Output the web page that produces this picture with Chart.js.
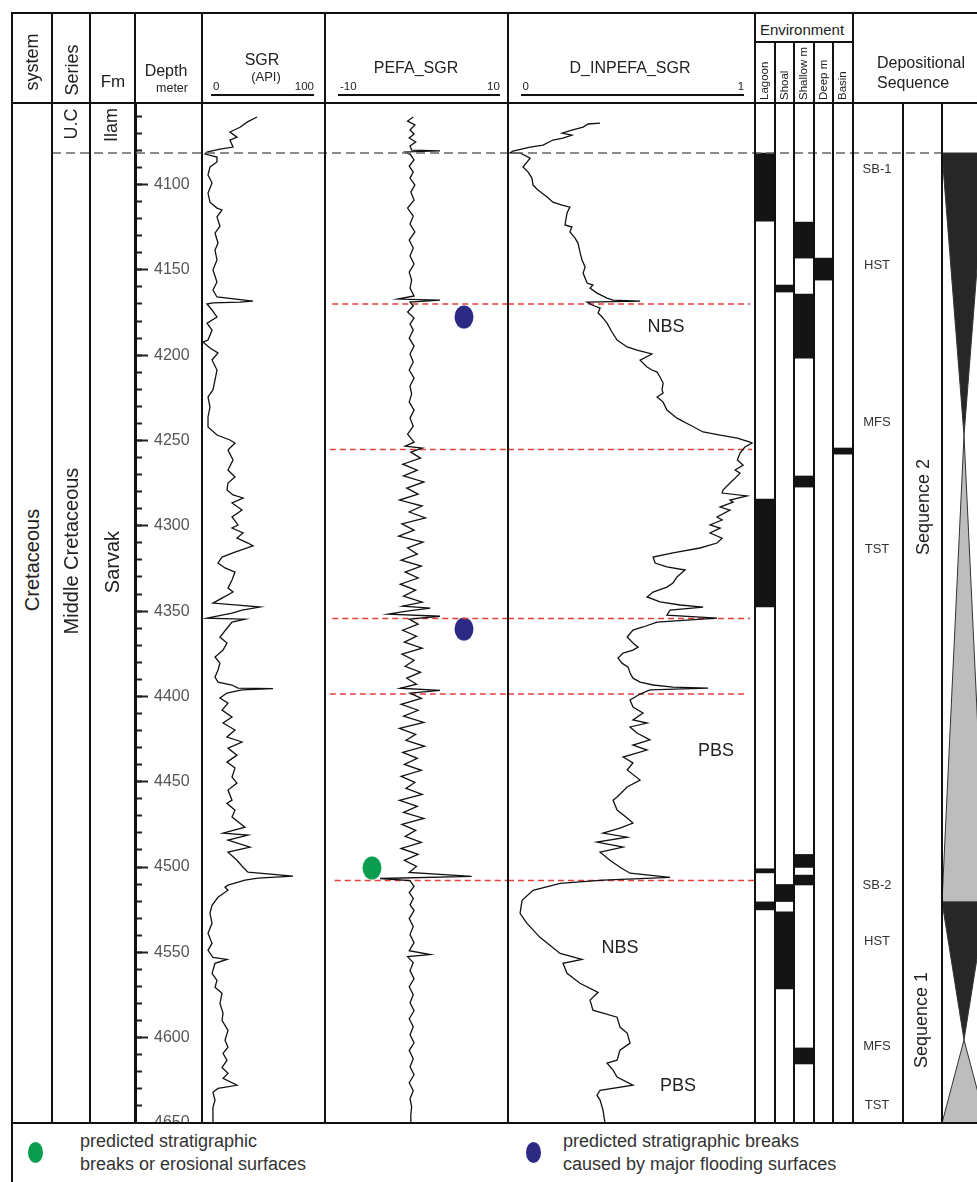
<!DOCTYPE html>
<html>
<head>
<meta charset="utf-8">
<script src="https://cdn.jsdelivr.net/npm/chart.js@4/dist/chart.umd.min.js"></script>
<style>
  body { margin: 0; background: #fff; }
  #page { position: relative; width: 977px; height: 1182px; overflow: hidden; background: #fff;
          font-family: Arial, "Liberation Sans", Helvetica, sans-serif; color: #222; }
  .ln { position: absolute; background: #111; z-index: 4; }
  .t { position: absolute; white-space: nowrap; line-height: 1; z-index: 5; }
  canvas { position: absolute; }
</style>
</head>
<body>
<div id="page"></div>
<script>
const depthTop = 4052.2, depthBottom = 4650;   // metres shown in the plot band
const depthLabels = [4100, 4150, 4200, 4250, 4300, 4350, 4400, 4450, 4500, 4550, 4600, 4650];

// SGR (API) : [depth, value]
const sgrLog = [[4060.4,44.7],[4063.4,35.0],[4066.4,28.2],[4069.2,18.4],[4072.2,25.2],[4073.9,18.4],[4078.0,21.4],[4079.2,8.7],[4081.0,-3.9],[4082.1,-5.8],
  [4083.9,5.8],[4086.8,5.8],[4089.7,-1.0],[4094.4,-2.9],[4099.1,1.0],[4105.0,-2.9],[4110.3,-1.0],[4113.8,5.8],[4114.9,10.7],[4119.0,5.8],
  [4124.3,8.7],[4128.4,3.9],[4134.3,6.8],[4138.4,3.9],[4144.2,5.8],[4150.1,1.9],[4157.1,5.8],[4161.8,1.9],[4165.9,5.8],[4168.3,40.8],
  [4168.9,28.2],[4169.4,1.9],[4170.0,-3.9],[4173.5,1.0],[4177.6,5.8],[4181.2,-3.9],[4185.3,1.0],[4191.1,-2.9],[4192.3,-7.8],[4195.8,-1.0],
  [4198.7,6.8],[4202.8,1.0],[4208.7,5.8],[4214.5,3.9],[4220.4,1.9],[4224.5,-2.9],[4230.4,-1.0],[4236.2,-2.9],[4242.1,-2.9],[4246.8,5.8],
  [4249.7,18.4],[4251.5,23.3],[4254.4,18.4],[4255.6,16.5],[4261.4,21.4],[4267.3,16.5],[4271.4,23.3],[4274.9,16.5],[4279.0,15.5],[4281.9,21.4],
  [4283.7,31.1],[4286.6,20.4],[4290.7,30.1],[4294.8,20.4],[4299.5,26.2],[4301.3,20.4],[4304.2,31.1],[4307.2,25.2],[4310.1,35.9],[4311.8,40.8],
  [4315.4,23.3],[4318.3,10.7],[4321.8,6.8],[4324.7,13.6],[4327.1,23.3],[4331.8,20.4],[4336.5,16.5],[4338.8,21.4],[4342.4,10.7],[4345.3,1.9],
  [4346.5,26.2],[4347.6,47.6],[4349.4,30.1],[4351.2,20.4],[4354.1,-3.9],[4354.7,33.0],[4356.4,20.4],[4359.3,16.5],[4365.2,8.7],[4368.7,15.5],
  [4372.8,11.7],[4376.9,3.9],[4380.5,8.7],[4384.5,6.8],[4388.6,3.9],[4391.6,6.8],[4393.3,20.4],[4395.1,26.2],[4395.4,60.2],[4396.2,30.1],
  [4398.0,15.5],[4400.9,8.7],[4403.9,16.5],[4408.0,10.7],[4412.1,20.4],[4415.6,11.7],[4419.7,23.3],[4423.8,15.5],[4426.7,30.1],[4430.3,16.5],
  [4434.4,25.2],[4438.5,15.5],[4442.0,23.3],[4447.3,20.4],[4450.8,25.2],[4454.9,16.5],[4460.8,20.4],[4462.6,15.5],[4466.7,23.3],[4470.7,20.4],
  [4476.6,33.0],[4480.1,11.7],[4481.3,35.9],[4484.2,16.5],[4488.3,37.9],[4491.3,16.5],[4496.0,25.2],[4500.1,31.1],[4503.0,35.9],[4505.3,79.6],
  [4506.5,45.6],[4507.7,33.0],[4510.6,16.5],[4511.8,13.6],[4513.6,16.5],[4517.7,6.8],[4522.4,1.0],[4527.1,-1.0],[4533.0,1.0],[4538.8,-2.9],
  [4544.7,1.0],[4548.8,-2.9],[4552.9,1.9],[4554.1,15.5],[4556.4,3.9],[4562.3,1.0],[4566.4,5.8],[4570.5,3.9],[4574.0,10.7],[4579.9,8.7],
  [4585.7,11.7],[4589.8,10.7],[4595.7,16.5],[4601.5,13.6],[4605.6,16.5],[4609.2,11.7],[4613.3,15.5],[4617.4,10.7],[4620.9,16.5],[4623.8,11.7],
  [4627.9,25.2],[4629.7,6.8],[4632.0,1.9],[4636.7,3.9],[4640.8,1.9],[4650.2,1.9]];

// PEFA_SGR : [depth, value]
const pefaLog = [[4060.4,-0.7],[4062.8,-1.4],[4065.1,-0.5],[4068.0,-1.1],[4070.4,-0.6],[4072.7,-1.2],[4075.1,-0.4],[4077.4,-1.1],[4079.8,-0.9],[4080.3,2.6],
  [4080.9,-1.7],[4082.7,-1.0],[4085.6,-0.6],[4089.2,-1.2],[4092.7,-0.7],[4096.2,-1.1],[4100.3,-0.5],[4104.4,-1.0],[4109.1,-0.6],[4113.8,-1.4],
  [4118.5,-0.7],[4123.1,-1.1],[4127.8,-0.5],[4132.5,-1.2],[4137.2,-0.7],[4141.9,-1.1],[4146.6,-0.6],[4151.3,-1.2],[4156.0,-0.9],[4160.7,-1.1],
  [4165.3,-0.6],[4167.1,-2.6],[4167.7,2.6],[4168.9,-1.1],[4171.2,-0.7],[4174.7,-1.4],[4178.2,-0.6],[4181.8,-1.1],[4185.3,-0.7],[4190.0,-1.2],
  [4194.7,-0.6],[4199.3,-1.1],[4204.0,-0.7],[4208.7,-1.2],[4213.4,-0.6],[4218.1,-1.1],[4222.8,-0.9],[4227.5,-1.2],[4232.2,-0.6],[4236.9,-1.1],
  [4241.6,-0.7],[4246.3,-1.4],[4251.0,-0.6],[4253.3,-1.7],[4254.5,0.4],[4256.8,-1.0],[4260.3,0.2],[4263.9,-2.0],[4267.4,-0.2],[4270.8,-1.9],
  [4274.3,0.6],[4277.9,-1.5],[4281.4,-0.1],[4284.9,-2.4],[4288.4,0.4],[4291.9,-1.2],[4295.4,0.8],[4298.9,-2.1],[4302.5,-0.6],[4306.0,-2.5],
  [4309.5,0.5],[4313.0,-1.4],[4316.6,-0.2],[4320.1,-2.2],[4323.6,0.3],[4327.1,-1.7],[4330.6,-0.1],[4334.2,-2.3],[4337.7,-0.4],[4341.2,-1.9],
  [4344.7,0.4],[4347.1,-2.0],[4348.3,1.4],[4350.0,-1.5],[4351.8,-3.8],[4353.0,2.6],[4354.7,-1.2],[4357.6,-0.1],[4361.2,-2.0],[4364.7,-0.3],
  [4368.2,-1.8],[4371.7,0.4],[4375.2,-2.1],[4378.8,-0.6],[4382.3,-1.7],[4385.8,0.2],[4389.3,-1.5],[4392.8,-0.3],[4395.2,-2.3],[4396.4,2.6],
  [4398.1,-1.1],[4401.1,0.3],[4404.6,-2.2],[4408.1,-0.1],[4411.6,-1.9],[4415.2,0.6],[4418.7,-2.4],[4422.2,-0.4],[4425.7,-1.6],[4429.2,0.7],
  [4432.8,-2.0],[4436.3,-0.2],[4439.8,-1.8],[4443.3,0.3],[4446.8,-2.2],[4450.4,-0.5],[4453.9,-1.6],[4457.4,0.4],[4460.9,-2.4],[4464.4,-0.2],
  [4468.0,-1.9],[4471.5,0.6],[4475.0,-2.1],[4478.5,-0.4],[4482.0,-1.7],[4485.6,0.3],[4489.1,-2.2],[4492.6,-0.1],[4496.1,-1.8],[4499.6,-0.3],
  [4503.2,-1.2],[4505.5,6.5],[4506.7,-4.8],[4507.9,-1.1],[4511.4,-0.6],[4514.9,-1.2],[4518.4,-0.7],[4522.0,-1.1],[4525.5,-0.6],[4530.2,-1.2],
  [4534.9,-0.7],[4539.6,-1.1],[4544.3,-0.6],[4549.0,-1.2],[4551.3,1.4],[4552.5,-1.4],[4556.0,-0.7],[4560.7,-1.1],[4565.4,-0.6],[4570.1,-1.2],
  [4574.8,-0.7],[4579.5,-1.1],[4584.2,-0.6],[4588.9,-1.2],[4593.6,-0.7],[4598.3,-1.1],[4603.0,-0.6],[4607.6,-1.2],[4612.3,-0.7],[4617.0,-1.1],
  [4621.7,-0.6],[4626.4,-1.2],[4631.1,-0.7],[4635.8,-1.1],[4640.5,-0.9],[4645.2,-1.0],[4650.5,-1.0]];

// D_INPEFA_SGR : [depth, value]
const dinLog = [[4064.0,0.356],[4064.5,0.302],[4066.3,0.280],[4068.1,0.230],[4069.8,0.186],[4071.0,0.230],[4072.8,0.190],[4073.9,0.145],[4076.9,0.101],[4078.0,0.043],
  [4080.4,-0.034],[4081.5,-0.047],[4081.6,0.0],[4084.5,0.043],[4086.8,0.029],[4089.7,0.011],[4092.7,0.034],[4096.2,0.051],[4100.3,0.056],[4103.2,0.078],
  [4107.3,0.119],[4110.3,0.145],[4112.0,0.186],[4113.2,0.221],[4116.7,0.208],[4123.7,0.199],[4124.9,0.230],[4127.8,0.221],[4131.4,0.244],[4134.3,0.257],
  [4139.6,0.266],[4144.2,0.275],[4148.3,0.289],[4151.9,0.280],[4157.7,0.298],[4158.9,0.324],[4160.7,0.311],[4163.6,0.342],[4166.5,0.387],[4167.7,0.414],
  [4168.3,0.535],[4168.9,0.298],[4170.6,0.320],[4172.4,0.356],[4175.3,0.347],[4177.6,0.365],[4181.2,0.387],[4186.4,0.409],[4191.1,0.432],[4195.2,0.477],
  [4197.0,0.521],[4199.3,0.588],[4202.9,0.535],[4206.9,0.566],[4208.7,0.588],[4209.9,0.611],[4212.8,0.624],[4216.3,0.638],[4220.4,0.633],[4222.2,0.638],
  [4224.5,0.611],[4227.5,0.638],[4232.2,0.655],[4236.9,0.700],[4240.9,0.758],[4245.0,0.817],[4246.8,0.893],[4248.6,0.970],[4250.9,1.027],[4251.5,1.036],
  [4253.8,1.004],[4257.4,0.982],[4261.4,0.970],[4264.4,0.996],[4267.3,0.960],[4269.1,0.982],[4273.2,0.951],[4274.9,0.937],[4279.0,0.906],[4280.8,0.902],
  [4282.5,1.013],[4284.9,0.937],[4286.1,0.951],[4289.0,0.893],[4290.8,0.937],[4294.8,0.879],[4296.6,0.902],[4299.5,0.848],[4301.3,0.893],[4304.2,0.848],
  [4307.2,0.902],[4310.1,0.879],[4313.0,0.803],[4315.9,0.682],[4318.3,0.593],[4321.8,0.602],[4324.1,0.655],[4325.9,0.736],[4330.0,0.700],[4333.5,0.682],
  [4335.9,0.655],[4338.8,0.593],[4341.7,0.566],[4344.6,0.624],[4346.4,0.714],[4347.6,0.817],[4349.4,0.669],[4352.3,0.655],[4354.1,0.879],[4356.4,0.611],
  [4359.3,0.548],[4361.1,0.503],[4365.2,0.477],[4368.7,0.503],[4371.1,0.526],[4372.8,0.503],[4374.6,0.459],[4377.5,0.436],[4380.5,0.454],[4382.8,0.481],
  [4386.3,0.490],[4389.3,0.503],[4391.6,0.535],[4393.3,0.593],[4394.5,0.682],[4395.1,0.839],[4396.2,0.579],[4398.6,0.535],[4402.1,0.490],[4406.2,0.503],
  [4409.7,0.548],[4413.8,0.503],[4415.6,0.566],[4417.9,0.490],[4421.4,0.521],[4425.5,0.579],[4428.5,0.503],[4431.4,0.566],[4435.5,0.459],[4439.0,0.503],
  [4443.1,0.477],[4449.0,0.535],[4453.1,0.477],[4458.9,0.432],[4460.8,0.414],[4466.6,0.432],[4471.3,0.477],[4474.2,0.503],[4477.2,0.445],[4480.1,0.369],
  [4482.5,0.477],[4485.4,0.342],[4488.3,0.459],[4491.3,0.356],[4496.0,0.400],[4500.1,0.445],[4503.6,0.490],[4506.0,0.669],[4507.7,0.369],[4509.5,0.177],
  [4513.6,0.056],[4519.5,0.007],[4527.1,-0.002],[4533.0,0.029],[4541.2,0.087],[4550.6,0.177],[4554.1,0.275],[4556.4,0.190],[4562.3,0.208],[4568.1,0.266],
  [4573.4,0.347],[4578.0,0.311],[4583.9,0.324],[4588.0,0.432],[4593.8,0.445],[4597.3,0.477],[4603.2,0.490],[4607.3,0.445],[4613.2,0.432],[4614.9,0.387],
  [4619.0,0.414],[4623.1,0.432],[4627.8,0.503],[4630.8,0.356],[4633.7,0.342],[4636.6,0.356],[4642.5,0.369],[4650.1,0.378]];

// predicted stratigraphic breaks (red dashed lines)
const breakDepth = [4170.0, 4255.3, 4354.3, 4398.6, 4507.9];
const breakFrom = [-10.7, -11.0, -10.7, -11.0, -10.4];   // PEFA units, where the line starts
const breakTo = [1.027, 1.036, 1.027, 1.004, 1.049];     // D_INPEFA units, where it ends
const formationTop = 4081.5;                              // Ilam / Sarvak boundary

const floodDots = [[4177.6, 5.56], [4360.5, 5.56]];   // [depth, PEFA]
const erosionDots = [[4500.5, -5.8]];

// environment column: black intervals [top, bottom]
const envNames = ['Lagoon', 'Shoal', 'Shallow m', 'Deep m', 'Basin'];
const lagoonBeds = [[4081.5, 4121.4], [4284.3, 4347.6], [4501.0, 4503.4], [4520.4, 4525.1]];
const shoalBeds = [[4158.9, 4163.0], [4510.2, 4520.2], [4526.3, 4571.4]];
const shallowBeds = [[4122.0, 4143.1], [4164.2, 4201.7], [4270.8, 4277.3], [4492.6, 4500.2], [4504.7, 4510.5], [4606.0, 4615.4]];
const deepBeds = [[4143.1, 4156.0]];
const basinBeds = [[4254.4, 4258.0]];

// depositional sequence wedges
const wedgeTops = [4081.5, 4247.0, 4520.4, 4601.3];
const wedgeBases = [4247.0, 4520.4, 4601.3, 4650.0];
const wedgeNarrowing = [true, false, true, false];
const tractNames = ['SB-1', 'HST', 'MFS', 'TST', 'SB-2', 'HST', 'MFS', 'TST'];
const tractDepth = [4090.3, 4146.6, 4238.6, 4313.0, 4510.2, 4542.8, 4604.4, 4639.0];

const trendNames = ['NBS', 'PBS', 'NBS', 'PBS'];
const trendDepth = [4182.9, 4431.4, 4546.8, 4627.6];
const trendValue = [0.651, 0.875, 0.445, 0.705];

// ---------------- page frame ----------------
const page = document.getElementById('page');
const FONT = 'Arial, "Liberation Sans", Helvetica, sans-serif';
const TOP = 103, H = 1020;

function rect(x, y, w, h) {
  const d = document.createElement('div');
  d.className = 'ln';
  d.style.left = x + 'px'; d.style.top = y + 'px';
  d.style.width = w + 'px'; d.style.height = h + 'px';
  page.appendChild(d);
  return d;
}
function hline(x1, x2, y, w = 2) { return rect(x1, y - w / 2, x2 - x1, w); }
function vline(x, y1, y2, w = 2) { return rect(x - w / 2, y1, w, y2 - y1); }
function text(str, x, y, size, opt = {}) {
  const d = document.createElement('div');
  d.className = 't';
  d.textContent = str;
  d.style.left = x + 'px'; d.style.top = y + 'px';
  d.style.fontSize = size + 'px';
  d.style.color = opt.color || '#222';
  let tr = opt.align === 'left' ? 'translate(0,-50%)' : 'translate(-50%,-50%)';
  if (opt.rotate) tr += ' rotate(-90deg)';
  d.style.transform = tr;
  page.appendChild(d);
  return d;
}
function upText(str, cx, bottom, size) {
  const d = document.createElement('div');
  d.className = 't';
  d.textContent = str;
  d.style.fontSize = size + 'px';
  d.style.left = (cx - size / 2) + 'px';
  d.style.top = bottom + 'px';
  d.style.transformOrigin = '0 0';
  d.style.transform = 'rotate(-90deg)';
  page.appendChild(d);
}

// frame lines
hline(12, 977, 13);
hline(12, 977, 102.5);
hline(12, 977, 1123);
hline(755, 853, 42);
vline(12, 12, 1182);
[52, 90, 202, 325, 508, 755, 853].forEach(x => vline(x, 12, 1124));
vline(135, 12, 103);
[903, 942].forEach(x => vline(x, 102, 1124));
const envStep = 98 / envNames.length;
for (let i = 1; i < envNames.length; i++) vline(755 + envStep * i, 42, 1124);

// header
text('system', 32, 62, 18, { rotate: true });
text('Series', 72, 70, 18, { rotate: true });
text('Fm', 113, 81, 17);
text('Depth', 166, 71, 16);
text('meter', 172, 88, 12.5);
text('SGR', 262, 60, 16);
text('(API)', 266, 76, 13);
text('PEFA_SGR', 416, 68, 16);
text('D_INPEFA_SGR', 630, 68, 16);
text('Environment', 802, 29, 15);
envNames.forEach((n, i) => upText(n, 755 + envStep * (i + 0.5), 100, 11.5));
text('Depositional', 877, 63, 16, { align: 'left' });
text('Sequence', 877, 83, 16, { align: 'left' });

// left columns
text('Cretaceous', 32, 560, 20, { rotate: true });
text('U.C', 71, 124, 18, { rotate: true });
text('Middle Cretaceous', 71, 551, 20, { rotate: true });
text('Ilam', 111, 125, 18, { rotate: true });
text('Sarvak', 112, 562, 20, { rotate: true });
text('Sequence 2', 923, 507, 18, { rotate: true });
text('Sequence 1', 921, 1020, 18, { rotate: true });

// legend
function legendDot(cx, cy, color) {
  const d = document.createElement('div');
  d.style.cssText = 'position:absolute;width:15px;height:21px;border-radius:50%;background:' + color +
    ';left:' + (cx - 7.5) + 'px;top:' + (cy - 10.5) + 'px;';
  page.appendChild(d);
}
legendDot(35, 1152, '#0a9d4f');
legendDot(533, 1152, '#2d2a86');
text('predicted  stratigraphic', 80, 1141, 18, { align: 'left', color: '#333' });
text('breaks or erosional surfaces', 80, 1164, 18, { align: 'left', color: '#333' });
text('predicted stratigraphic breaks', 563, 1141, 18, { align: 'left', color: '#333' });
text('caused by major flooding surfaces', 563, 1164, 18, { align: 'left', color: '#333' });

// ---------------- charts ----------------
Chart.defaults.font.family = FONT;
Chart.defaults.plugins.legend.display = false;
Chart.defaults.plugins.tooltip.enabled = false;

function canvasAt(left, width, z) {
  const c = document.createElement('canvas');
  c.width = width; c.height = H;
  c.style.left = left + 'px'; c.style.top = TOP + 'px';
  c.style.width = width + 'px'; c.style.height = H + 'px';
  c.style.zIndex = z || 1;
  page.appendChild(c);
  return c;
}
const base = {
  responsive: false, animation: false, events: [], devicePixelRatio: 1,
  layout: { padding: 0, autoPadding: false }
};
const depthAxis = { type: 'linear', display: false, reverse: true, min: depthTop, max: depthBottom };
const pts = log => log.map(p => ({ x: p[1], y: p[0] }));
function curve(log) {
  return { data: pts(log), showLine: true, pointRadius: 0, borderColor: '#111', borderWidth: 1.3, tension: 0 };
}
function track(canvas, xMin, xMax, datasets) {
  return new Chart(canvas, {
    type: 'scatter',
    data: { datasets },
    options: { ...base, scales: { x: { type: 'linear', display: false, min: xMin, max: xMax }, y: depthAxis } }
  });
}
function dotImage(color) {
  const c = document.createElement('canvas');
  c.width = 20; c.height = 24;
  const g = c.getContext('2d');
  g.fillStyle = color;
  g.beginPath(); g.ellipse(10, 12, 9.5, 11.5, 0, 0, Math.PI * 2); g.fill();
  return c;
}

// depth axis: minor ticks every 10 m, labels every 50 m
const minorTicks = [];
for (let d = 4060; d <= depthBottom; d += 10) minorTicks.push({ value: d });
const noPad = s => { s.paddingTop = 0; s.paddingBottom = 0; };
new Chart(canvasAt(125, 77), {
  type: 'scatter',
  data: { datasets: [] },
  options: {
    ...base,
    scales: {
      x: { type: 'linear', display: false, min: 0, max: 1 },
      minor: {
        type: 'linear', position: 'right', reverse: true, min: depthTop, max: depthBottom,
        afterBuildTicks: s => { s.ticks = minorTicks.map(t => ({ value: t.value })); },
        afterFit: s => { s.width = 0; noPad(s); },
        ticks: { display: false, autoSkip: false },
        grid: { drawOnChartArea: false, tickLength: 7, tickWidth: 2, tickColor: '#222' },
        border: { display: false }
      },
      y: {
        type: 'linear', position: 'right', reverse: true, min: depthTop, max: depthBottom,
        afterBuildTicks: s => { s.ticks = depthLabels.map(v => ({ value: v })); },
        afterFit: s => { s.width = 67; noPad(s); },
        ticks: { autoSkip: false, padding: 6, color: '#555', font: { size: 16 }, callback: v => String(v) },
        grid: { drawOnChartArea: false, tickLength: 13, tickWidth: 2, tickColor: '#222' },
        border: { display: true, width: 3, color: '#111' }
      }
    }
  }
});

// SGR
const sgrChart = track(canvasAt(202, 123), -8.74, 110.7, [curve(sgrLog)]);

// PEFA with break lines and dots
const pefaMax = 11.0;
const pefaSets = [curve(pefaLog)];
breakDepth.forEach((d, i) => pefaSets.push({
  data: [{ x: breakFrom[i], y: d }, { x: pefaMax, y: d }], showLine: true, pointRadius: 0,
  borderColor: '#e3403a', borderWidth: 1.5, borderDash: [6, 4]
}));
pefaSets.push({ data: floodDots.map(p => ({ x: p[1], y: p[0] })), pointStyle: dotImage('#2d2a86'), pointRadius: 10 });
pefaSets.push({ data: erosionDots.map(p => ({ x: p[1], y: p[0] })), pointStyle: dotImage('#0a9d4f'), pointRadius: 10 });
const pefaChart = track(canvasAt(325, 183), -11.6, pefaMax, pefaSets);

// D_INPEFA with break lines
const dinMin = -0.056;
const dinSets = [curve(dinLog)];
breakDepth.forEach((d, i) => dinSets.push({
  data: [{ x: dinMin, y: d }, { x: breakTo[i], y: d }], showLine: true, pointRadius: 0,
  borderColor: '#e3403a', borderWidth: 1.5, borderDash: [6, 4]
}));
const dinChart = track(canvasAt(508, 247), dinMin, 1.049, dinSets);

// environment floating bars
const envBeds = [lagoonBeds, shoalBeds, shallowBeds, deepBeds, basinBeds];
const layers = Math.max(...envBeds.map(b => b.length));
const envSets = [];
for (let k = 0; k < layers; k++) {
  envSets.push({
    data: envBeds.map(b => b[k] || null), backgroundColor: '#141414', borderWidth: 0,
    grouped: false, barPercentage: 1, categoryPercentage: 1
  });
}
new Chart(canvasAt(755, 98), {
  type: 'bar',
  data: { labels: envNames, datasets: envSets },
  options: { ...base, scales: { x: { display: false }, y: depthAxis } }
});

// sequence wedges
const seqSets = wedgeTops.map((t, i) => {
  const b = wedgeBases[i];
  const shape = wedgeNarrowing[i]
    ? [{ x: -1, y: t }, { x: 1, y: t }, { x: 0, y: b }, { x: -1, y: t }]
    : [{ x: 0, y: t }, { x: 1, y: b }, { x: -1, y: b }, { x: 0, y: t }];
  return {
    data: shape, showLine: true, pointRadius: 0, fill: 'shape',
    backgroundColor: wedgeNarrowing[i] ? '#272727' : '#bdbdbd', borderColor: '#333', borderWidth: 1
  };
});
track(canvasAt(942, 35), -1, 0.59, seqSets);

// Ilam/Sarvak boundary across the columns
track(canvasAt(52, 890, 3), 0, 1, [{
  data: [{ x: 0, y: formationTop }, { x: 1, y: formationTop }], showLine: true, pointRadius: 0,
  borderColor: '#666', borderWidth: 1.3, borderDash: [9, 5]
}]);

// header scale bars, placed from the track scales
function scaleBar(chart, left, a, b, la, lb) {
  const xa = left + chart.scales.x.getPixelForValue(a);
  const xb = left + chart.scales.x.getPixelForValue(b);
  hline(xa, xb, 95, 2);
  text(la, xa + 2, 87, 11.5, { align: 'left' });
  text(lb, xb, 87, 11.5, { align: 'left' }).style.transform = 'translate(-100%,-50%)';
}
scaleBar(sgrChart, 202, 0, 100, '0', '100');
scaleBar(pefaChart, 325, -10, 10, '-10', '10');
scaleBar(dinChart, 508, 0, 1, '0', '1');

// annotations placed through the scales
trendNames.forEach((n, i) => {
  text(n, 508 + dinChart.scales.x.getPixelForValue(trendValue[i]), TOP + dinChart.scales.y.getPixelForValue(trendDepth[i]), 18);
});
tractNames.forEach((n, i) => {
  text(n, 877, TOP + sgrChart.scales.y.getPixelForValue(tractDepth[i]), 13, { color: '#333' });
});
</script>
</body>
</html>
